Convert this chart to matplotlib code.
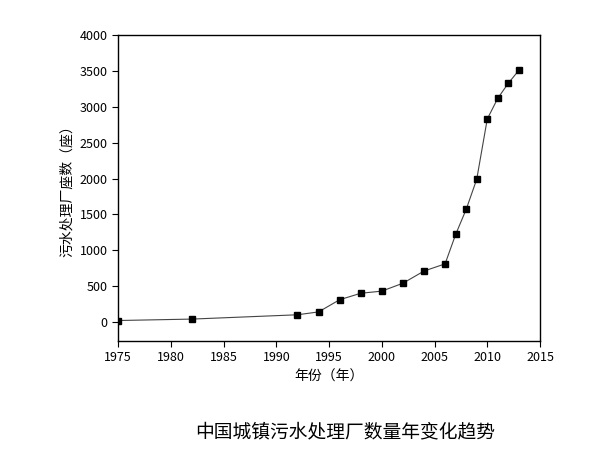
import matplotlib as mpl
import matplotlib.pyplot as plt

mpl.rcParams["font.family"] = ["Noto Sans CJK SC", "DejaVu Sans"]

years = [1975, 1982, 1992, 1994, 1996, 1998, 2000, 2002, 2004, 2006, 2007, 2008, 2009, 2010, 2011, 2012, 2013]
plants = [20, 40, 100, 140, 310, 400, 430, 540, 710, 810, 1220, 1570, 1990, 2830, 3120, 3330, 3510]
xticks = [1975, 1980, 1985, 1990, 1995, 2000, 2005, 2010, 2015]
yticks = [0, 500, 1000, 1500, 2000, 2500, 3000, 3500, 4000]

fig = plt.figure(figsize=(6, 4.62), dpi=100, facecolor="white")
ax = fig.add_axes([0.197, 0.262, 0.703, 0.662])
ax.plot(years, plants, color="#444444", lw=0.8, marker="s", ms=5,
        mfc="black", mec="black")
ax.set_xlim(1975, 2015)
ax.set_ylim(-265, 4000)
ax.set_xticks(xticks)
ax.set_yticks(yticks)
ax.tick_params(labelsize=9, direction="out", length=4)
for s in ax.spines.values():
    s.set_linewidth(1.0)
ax.set_xlabel("年份（年）", fontsize=10)
ax.set_ylabel("污水处理厂座数（座）", fontsize=10)
fig.text(0.575, 0.065, "中国城镇污水处理厂数量年变化趋势", fontsize=13.5, ha="center", va="center")
fig.savefig("out.png", dpi=100)
